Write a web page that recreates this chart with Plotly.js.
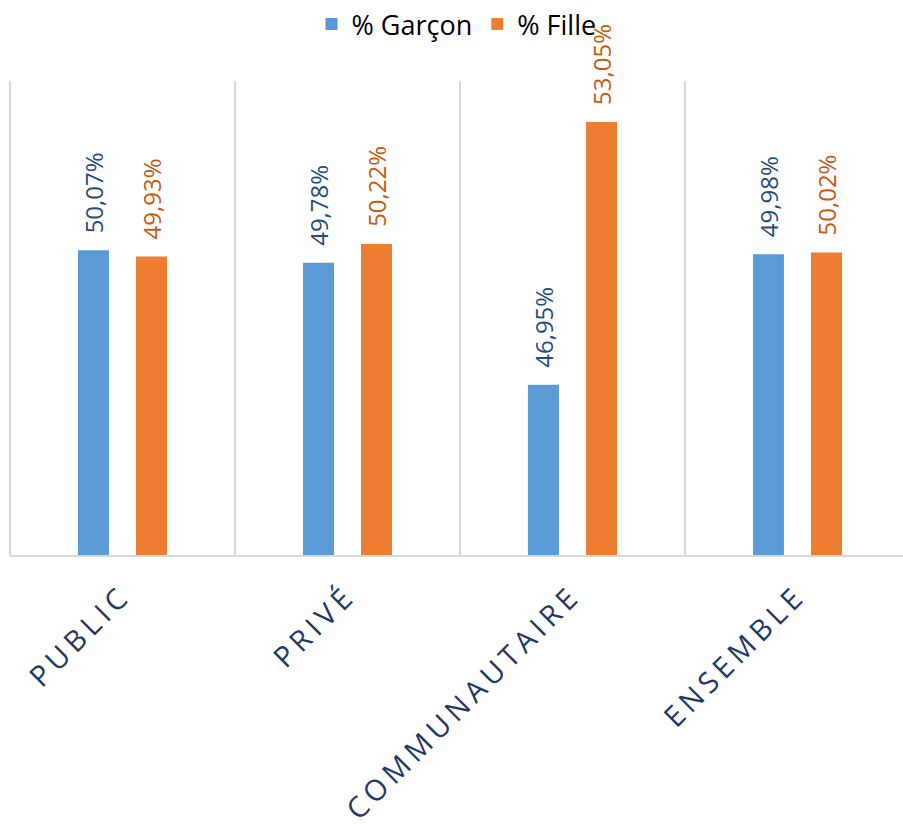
<!DOCTYPE html>
<html>
<head>
<meta charset="utf-8">
<script src="https://cdn.plot.ly/plotly-3.0.1.min.js"></script>
<style>
html,body{margin:0;padding:0;background:#fff;}
#chart .xtick text{letter-spacing:5px;}
</style>
</head>
<body>
<div id="chart" style="width:903px;height:831px;"></div>
<script>
const categories = ["PUBLIC", "PRIVÉ", "COMMUNAUTAIRE", "ENSEMBLE"];
const garcon = [50.07, 49.78, 46.95, 49.98];
const fille = [49.93, 50.22, 53.05, 50.02];
const seriesNames = ["% Garçon", "% Fille"];

const fmt = v => v.toFixed(2).replace('.', ',') + '%';

const blue = '#5b9bd5', orange = '#ed7d31';
const blueLabel = '#1f4e79', orangeLabel = '#c55a11';

const traces = [
  {type: 'bar', name: seriesNames[0], x: categories, y: garcon,
   marker: {color: blue}, hoverinfo: 'none'},
  {type: 'bar', name: seriesNames[1], x: categories, y: fille,
   marker: {color: orange}, hoverinfo: 'none'}
];

const annotations = [];
categories.forEach((c, i) => {
  annotations.push({x: c, y: garcon[i], xref: 'x', yref: 'y', text: fmt(garcon[i]),
    showarrow: false, textangle: -90, yanchor: 'bottom', xanchor: 'center',
    xshift: -29, yshift: 15, font: {family: 'Open Sans', size: 24, color: blueLabel}});
  annotations.push({x: c, y: fille[i], xref: 'x', yref: 'y', text: fmt(fille[i]),
    showarrow: false, textangle: -90, yanchor: 'bottom', xanchor: 'center',
    xshift: 29, yshift: 15, font: {family: 'Open Sans', size: 24, color: orangeLabel}});
});

const layout = {
  width: 903, height: 831,
  margin: {l: 10, r: 0, t: 80, b: 276},
  paper_bgcolor: '#fff', plot_bgcolor: '#fff',
  barmode: 'group', bargap: 0.484, bargroupgap: 0.466,
  showlegend: true,
  legend: {orientation: 'h', x: 0.5, xanchor: 'center', y: 1.12, yanchor: 'middle',
    font: {family: 'Open Sans', size: 27, color: '#000'}, itemclick: false},
  xaxis: {type: 'category', range: [-0.5, 3.469], tickson: 'boundaries',
    showgrid: true, gridcolor: '#d9d9d9', gridwidth: 2,
    showline: true, linecolor: '#d9d9d9', linewidth: 2,
    ticks: '', tickangle: -45, zeroline: false, ticklabelstandoff: 10,
    tickfont: {family: 'Open Sans', size: 29, color: '#1f3864'}, automargin: false},
  yaxis: {range: [43, 54], visible: false, showgrid: false, zeroline: false},
  shapes: [{type: 'line', xref: 'paper', yref: 'paper', x0: 0, x1: 0, y0: 0, y1: 1,
    line: {color: '#d9d9d9', width: 2}, layer: 'below'}],
  annotations: annotations
};

Plotly.newPlot('chart', traces, layout, {displayModeBar: false, staticPlot: true});
</script>
</body>
</html>
